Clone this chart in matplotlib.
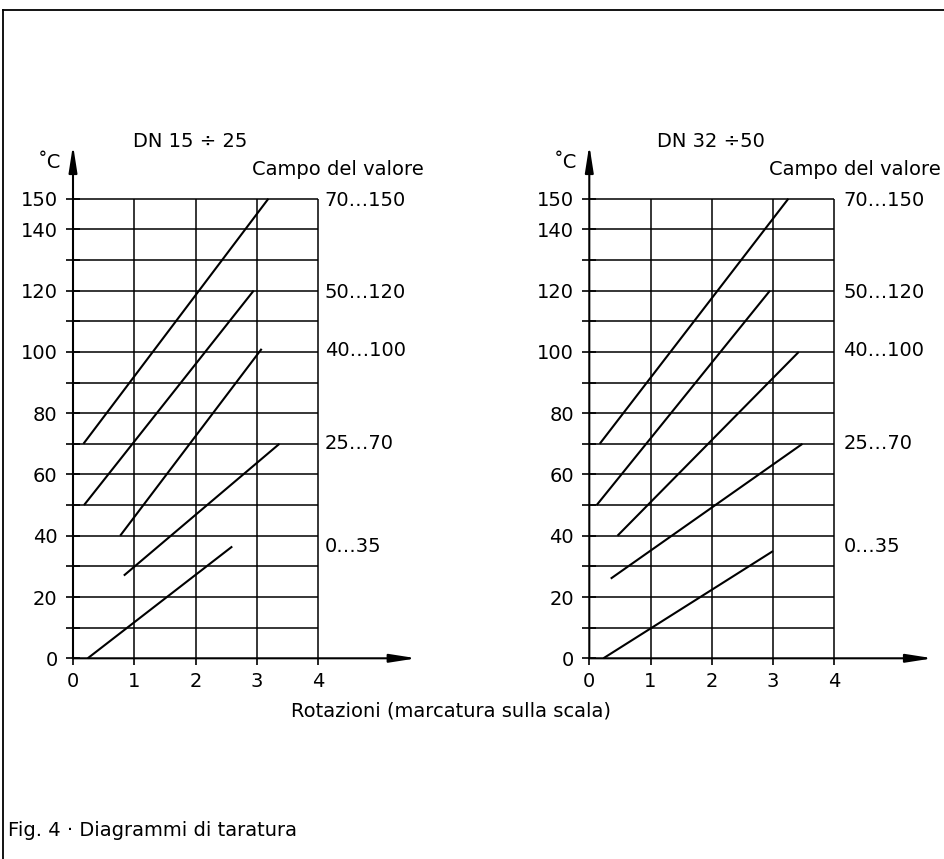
import numpy as np
import matplotlib.pyplot as plt
from matplotlib.lines import Line2D

plt.rcParams['font.family'] = ['DejaVu Sans']

# curve data (rotations, degC)
ranges = ['70…150', '50…120', '40…100', '25…70', '0…35']
left_x = [[0.17, 3.19], [0.18, 2.95], [0.77, 3.08], [0.83, 3.37], [0.24, 2.6]]
left_y = [[70, 150], [50, 120], [40, 101], [27, 70], [0, 36.5]]
right_x = [[0.17, 3.25], [0.12, 2.95], [0.46, 3.42], [0.35, 3.48], [0.23, 3.0]]
right_y = [[70, 150], [50, 120], [40, 100], [26, 70], [0, 35]]
titles = ['DN 15 ÷ 25', 'DN 32 ÷50']
yticks = list(range(0, 160, 10))
ytick_labels = ['0', '', '20', '', '40', '', '60', '', '80', '', '100', '', '120', '', '140', '150']
xticks = [0, 1, 2, 3, 4]

W, H = 944, 859
fig = plt.figure(figsize=(W / 100, H / 100), dpi=100)
fs = 14

# frame at top and left
fig.add_artist(Line2D([3 / W, 1], [1 - 10 / H, 1 - 10 / H], color='black', lw=1.3))
fig.add_artist(Line2D([3 / W, 3 / W], [0, 1 - 10 / H], color='black', lw=1.3))


def draw_panel(x0px, xs, ys, title, title_x, label_x, label_y):
    ax = fig.add_axes([x0px / W, (H - 658.3) / H, 245 / W, 459.6 / H])
    ax.set_xlim(0, 4)
    ax.set_ylim(0, 150)
    for s in ax.spines.values():
        s.set_visible(False)
    ax.set_yticks(yticks)
    ax.set_yticklabels(ytick_labels, fontsize=fs)
    ax.set_xticks(xticks)
    ax.set_xticklabels([str(t) for t in xticks], fontsize=fs)
    ax.tick_params(axis='y', direction='inout', length=10, width=1.2, pad=6)
    ax.tick_params(axis='x', direction='out', length=5, width=1.2, pad=5)
    ax.hlines(yticks[1:], 0, 4, color='black', lw=1.1, clip_on=False)
    ax.vlines(xticks[1:], 0, 150, color='black', lw=1.1, clip_on=False)
    # axes with arrows
    arr = dict(arrowstyle='-|>,head_length=1.6,head_width=0.25', color='black',
               lw=1.5, shrinkA=0, shrinkB=0)
    ax.annotate('', xy=(5.61, 0), xytext=(0, 0), arrowprops=arr, annotation_clip=False)
    ax.annotate('', xy=(0, 167.5), xytext=(0, 0), arrowprops=arr, annotation_clip=False)
    for x, y in zip(xs, ys):
        ax.plot(x, y, color='black', lw=1.5, clip_on=False, solid_capstyle='butt')
    ax.text(-0.2, 161.9, '˚C', fontsize=fs, ha='right', va='center')
    ax.text(title_x, 168.7, title, fontsize=fs, ha='left', va='center')
    ax.text(2.93, 159.5, 'Campo del valore', fontsize=fs, ha='left', va='center')
    for lab, ly in zip(ranges, label_y):
        ax.text(label_x, ly, lab, fontsize=fs, ha='left', va='center')
    return ax


draw_panel(73, left_x, left_y, titles[0], 0.98, 4.11, [149.5, 119.5, 100.5, 70, 36.5])
draw_panel(589.3, right_x, right_y, titles[1], 1.1, 4.15, [149.5, 119.5, 100.5, 70, 36.5])

fig.text(451 / W, 1 - 711 / H, 'Rotazioni (marcatura sulla scala)', fontsize=fs,
         ha='center', va='center')
fig.text(8 / W, 1 - 830 / H, 'Fig. 4 · Diagrammi di taratura', fontsize=fs,
         ha='left', va='center')

fig.savefig('out.png', dpi=100)
